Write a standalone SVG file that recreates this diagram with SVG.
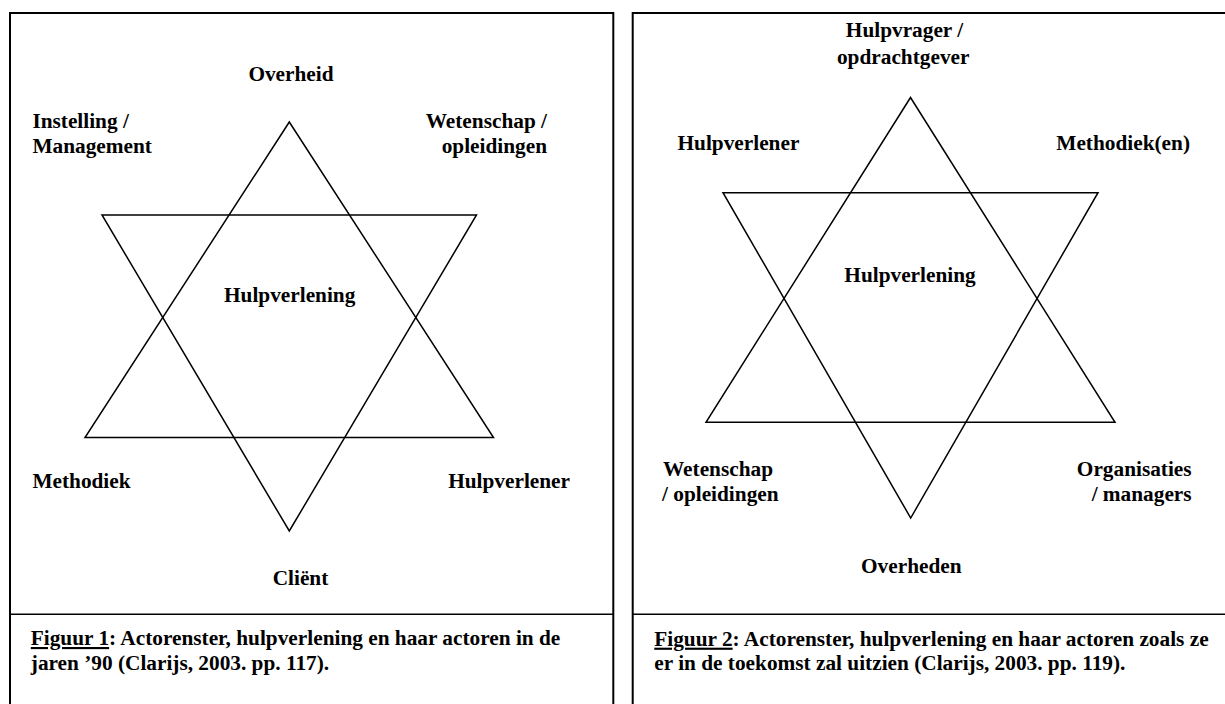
<svg xmlns="http://www.w3.org/2000/svg" width="1225" height="704" viewBox="0 0 1225 704">
<style>
  .lbl { font-family: "Liberation Serif", "Times New Roman", serif; font-weight: bold; font-size: 21.3px; fill: #000; }
  .mid { text-anchor: middle; }
  .end { text-anchor: end; }
  .frame { fill: none; stroke: #000; stroke-width: 2; }
  .div { fill: none; stroke: #000; stroke-width: 1.6; }
  .tri { fill: none; stroke: #000; stroke-width: 1.5; stroke-linejoin: miter; }
  .u { text-decoration: underline; }
</style>
<rect x="0" y="0" width="1225" height="704" fill="#fff"/>

<!-- Panel frames -->
<g id="panel-left">
  <path class="frame" d="M10,712 V13 H613.3 V712"/>
  <line class="div" x1="10" y1="614.3" x2="613.3" y2="614.3"/>
</g>
<g id="panel-right">
  <path class="frame" d="M632.7,712 V13 H1232"/>
  <line class="div" x1="632.7" y1="614.3" x2="1232" y2="614.3"/>
</g>

<!-- Stars (connectors) -->
<g id="connectors">
  <path class="tri" d="M289.3,122 L493.5,437.5 L85,437.5 Z"/>
  <path class="tri" d="M102,215 L476.5,215 L289.3,531 Z"/>
  <path class="tri" d="M910.5,97.5 L1115,422.3 L706,422.3 Z"/>
  <path class="tri" d="M723,192.7 L1098,192.7 L910.7,518 Z"/>
</g>

<!-- Figure 1 labels -->
<g id="f1-overheid"><text class="lbl mid" x="291" y="80.5">Overheid</text></g>
<g id="f1-instelling"><text class="lbl" x="32.4" y="127.5">Instelling /</text><text class="lbl" x="32.4" y="153">Management</text></g>
<g id="f1-wetenschap"><text class="lbl end" x="547" y="127.5">Wetenschap /</text><text class="lbl end" x="547" y="153">opleidingen</text></g>
<g id="f1-hulpverlening"><text class="lbl mid" x="289.7" y="301.7">Hulpverlening</text></g>
<g id="f1-methodiek"><text class="lbl" x="32.4" y="488">Methodiek</text></g>
<g id="f1-hulpverlener"><text class="lbl end" x="570" y="488">Hulpverlener</text></g>
<g id="f1-client"><text class="lbl mid" x="300.5" y="585">Cliënt</text></g>
<g id="f1-caption">
  <text class="lbl" x="30.8" y="645"><tspan class="u">Figuur 1</tspan>: Actorenster, hulpverlening en haar actoren in de</text>
  <text class="lbl" x="30.8" y="669.5">jaren ’90 (Clarijs, 2003. pp. 117).</text>
</g>

<!-- Figure 2 labels -->
<g id="f2-hulpvrager"><text class="lbl mid" x="904.5" y="36.7">Hulpvrager /</text><text class="lbl mid" x="903.2" y="63.5">opdrachtgever</text></g>
<g id="f2-hulpverlener"><text class="lbl" x="677.5" y="150">Hulpverlener</text></g>
<g id="f2-methodieken"><text class="lbl end" x="1190" y="150">Methodiek(en)</text></g>
<g id="f2-hulpverlening"><text class="lbl mid" x="910" y="281.7">Hulpverlening</text></g>
<g id="f2-wetenschap"><text class="lbl" x="663" y="475.7">Wetenschap</text><text class="lbl" x="662" y="500.7">/ opleidingen</text></g>
<g id="f2-organisaties"><text class="lbl end" x="1191.6" y="475.7">Organisaties</text><text class="lbl end" x="1191.6" y="500.7">/ managers</text></g>
<g id="f2-overheden"><text class="lbl mid" x="911.3" y="572.7">Overheden</text></g>
<g id="f2-caption">
  <text class="lbl" x="654.3" y="645.7"><tspan class="u">Figuur 2</tspan>: Actorenster, hulpverlening en haar actoren zoals ze</text>
  <text class="lbl" x="654.3" y="670">er in de toekomst zal uitzien (Clarijs, 2003. pp. 119).</text>
</g>
</svg>
